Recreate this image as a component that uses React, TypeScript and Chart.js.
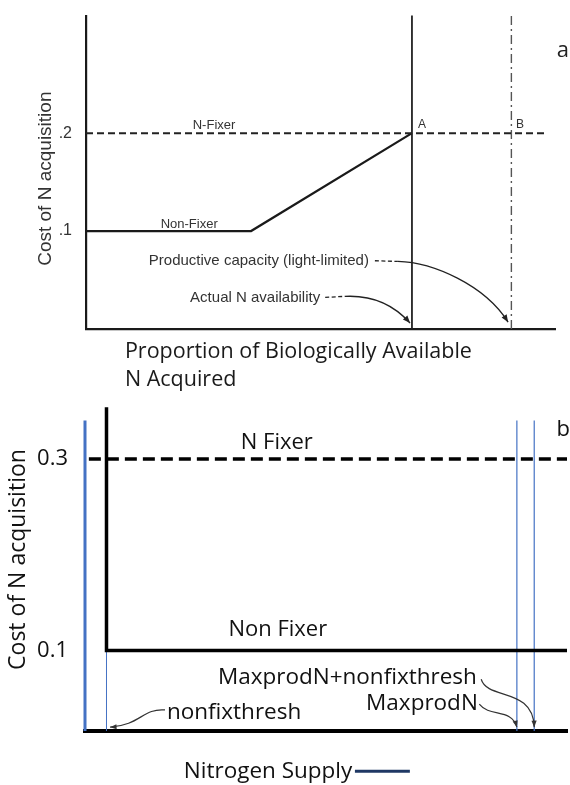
import React, { useEffect, useRef } from "react";
import { Chart, registerables } from "chart.js";

Chart.register(...registerables);

// ---------- Panel a data ----------
const aYTicks = [0.1, 0.2];
const aYTickLabels = [".1", ".2"];
const aNFixerX = [0, 0.985];
const aNFixerY = [0.2, 0.2];
const aNonFixerX = [0, 0.352, 0.695];
const aNonFixerY = [0.1, 0.1, 0.2];
const aLineAX = [0.695, 0.695];
const aLineAY = [0, 0.32];
const aLineBX = [0.907, 0.907];
const aLineBY = [0, 0.32];

// ---------- Panel b data ----------
const bYTicks = [0.1, 0.3];
const bYTickLabels = ["0.1", "0.3"];
const bNFixerX = [0.008, 1];
const bNFixerY = [0.3, 0.3];
const bNonFixerX = [0.0446, 0.0446, 1];
const bNonFixerY = [0.354, 0.1, 0.1];
const bAxisBlueX = [0, 0];
const bAxisBlueY = [0.016, 0.34];
const bThreshX = [0.0446, 0.0446];
const bThreshY = [0.016, 0.1];
const bMaxprodX = [0.896, 0.896];
const bMaxprodY = [0.016, 0.34];
const bMaxprodThreshX = [0.932, 0.932];
const bMaxprodThreshY = [0.016, 0.34];

const pts = (xs: number[], ys: number[]) => xs.map((x, i) => ({ x, y: ys[i] }));

type Txt = {
  t: string;
  x: number;
  y: number;
  font: string;
  color?: string;
  align?: CanvasTextAlign;
  rot?: boolean;
};
type Arrow = {
  lead?: [number, number][];
  curve: [number, number][]; // p0, c1, c2, p1
  color: string;
  width: number;
  head: number;
};

const ARIAL = "'Liberation Sans', Arial, sans-serif";
const CAL = "'Open Sans', 'Noto Sans', sans-serif";

const aTexts: Txt[] = [
  { t: "N-Fixer", x: 0.273, y: 0.208, font: `13px ${ARIAL}`, color: "#333", align: "center" },
  { t: "Non-Fixer", x: 0.22, y: 0.107, font: `13px ${ARIAL}`, color: "#333", align: "center" },
  { t: "A", x: 0.708, y: 0.209, font: `12px ${ARIAL}`, color: "#333", align: "left" },
  { t: "B", x: 0.917, y: 0.209, font: `12px ${ARIAL}`, color: "#333", align: "left" },
  { t: "a", x: 1.017, y: 0.284, font: `22px ${CAL}`, color: "#222", align: "center" },
  { t: "Productive capacity (light-limited)", x: 0.134, y: 0.0697, font: `15px ${ARIAL}`, color: "#333", align: "left" },
  { t: "Actual N availability", x: 0.222, y: 0.0323, font: `15px ${ARIAL}`, color: "#333", align: "left" },
  { t: "Cost of N acquisition", x: -0.085, y: 0.1535, font: `19px ${ARIAL}`, color: "#333", align: "center", rot: true },
  { t: "Proportion of Biologically Available", x: 0.083, y: -0.0232, font: `21.5px ${CAL}`, color: "#1a1a1a", align: "left" },
  { t: "N Acquired", x: 0.083, y: -0.0515, font: `21.5px ${CAL}`, color: "#1a1a1a", align: "left" },
];

const aArrows: Arrow[] = [
  {
    lead: [[0.616, 0.0697], [0.665, 0.069]],
    curve: [[0.665, 0.069], [0.74, 0.068], [0.85, 0.045], [0.9, 0.007]],
    color: "#222",
    width: 1.3,
    head: 8,
  },
  {
    lead: [[0.51, 0.0323], [0.552, 0.0333]],
    curve: [[0.552, 0.0333], [0.62, 0.035], [0.665, 0.02], [0.691, 0.006]],
    color: "#222",
    width: 1.3,
    head: 8,
  },
];

const bTexts: Txt[] = [
  { t: "N Fixer", x: 0.398, y: 0.317, font: `22px ${CAL}`, color: "#111", align: "center" },
  { t: "Non Fixer", x: 0.4, y: 0.122, font: `22px ${CAL}`, color: "#111", align: "center" },
  { t: "MaxprodN+nonfixthresh", x: 0.813, y: 0.072, font: `22.5px ${CAL}`, color: "#111", align: "right" },
  { t: "MaxprodN", x: 0.815, y: 0.045, font: `22.5px ${CAL}`, color: "#111", align: "right" },
  { t: "nonfixthresh", x: 0.17, y: 0.035, font: `22.5px ${CAL}`, color: "#111", align: "left" },
  { t: "b", x: 0.992, y: 0.33, font: `22px ${CAL}`, color: "#111", align: "center" },
  { t: "Cost of N acquisition", x: -0.139, y: 0.195, font: `23px ${CAL}`, color: "#111", align: "center", rot: true },
  { t: "Nitrogen Supply", x: 0.205, y: -0.026, font: `22.5px ${CAL}`, color: "#111", align: "left" },
];

const bArrows: Arrow[] = [
  {
    curve: [[0.166, 0.038], [0.12, 0.04], [0.115, 0.022], [0.052, 0.02]],
    color: "#333",
    width: 1.2,
    head: 7,
  },
  {
    curve: [[0.822, 0.07], [0.835, 0.048], [0.93, 0.062], [0.932, 0.02]],
    color: "#333",
    width: 1.2,
    head: 7,
  },
  {
    curve: [[0.818, 0.044], [0.84, 0.03], [0.885, 0.04], [0.896, 0.02]],
    color: "#333",
    width: 1.2,
    head: 7,
  },
  {
    lead: [[0.56, -0.026], [0.674, -0.026]],
    curve: [],
    color: "#1f3864",
    width: 3,
    head: 0,
  },
];

function notesPlugin(texts: Txt[], arrows: Arrow[]) {
  return {
    id: "notes",
    afterDatasetsDraw(chart: any) {
      const { ctx } = chart;
      const xs = chart.scales.x;
      const ys = chart.scales.y;
      const px = (v: number) => xs.getPixelForValue(v);
      const py = (v: number) => ys.getPixelForValue(v);
      ctx.save();
      for (const a of arrows) {
        ctx.strokeStyle = a.color;
        ctx.fillStyle = a.color;
        ctx.lineWidth = a.width;
        if (a.lead) {
          ctx.setLineDash(a.curve.length ? [4, 2.5] : []);
          ctx.beginPath();
          ctx.moveTo(px(a.lead[0][0]), py(a.lead[0][1]));
          ctx.lineTo(px(a.lead[1][0]), py(a.lead[1][1]));
          ctx.stroke();
          ctx.setLineDash([]);
        }
        if (a.curve.length === 4) {
          const [p0, c1, c2, p1] = a.curve;
          ctx.beginPath();
          ctx.moveTo(px(p0[0]), py(p0[1]));
          ctx.bezierCurveTo(px(c1[0]), py(c1[1]), px(c2[0]), py(c2[1]), px(p1[0]), py(p1[1]));
          ctx.stroke();
          if (a.head > 0) {
            const tx = px(p1[0]);
            const ty = py(p1[1]);
            const ang = Math.atan2(ty - py(c2[1]), tx - px(c2[0]));
            const h = a.head;
            ctx.beginPath();
            ctx.moveTo(tx, ty);
            ctx.lineTo(tx - h * Math.cos(ang - 0.38), ty - h * Math.sin(ang - 0.38));
            ctx.lineTo(tx - h * Math.cos(ang + 0.38), ty - h * Math.sin(ang + 0.38));
            ctx.closePath();
            ctx.fill();
          }
        }
      }
      for (const t of texts) {
        ctx.font = t.font;
        ctx.fillStyle = t.color || "#000";
        ctx.textAlign = t.align || "left";
        ctx.textBaseline = "middle";
        const x = px(t.x);
        const y = py(t.y);
        if (t.rot) {
          ctx.save();
          ctx.translate(x, y);
          ctx.rotate(-Math.PI / 2);
          ctx.fillText(t.t, 0, 0);
          ctx.restore();
        } else {
          ctx.fillText(t.t, x, y);
        }
      }
      ctx.restore();
    },
  };
}

const line = (data: any[], color: string, width: number, dash: number[] = [], order = 0) => ({
  data,
  showLine: true,
  borderColor: color,
  backgroundColor: color,
  borderWidth: width,
  borderDash: dash,
  pointRadius: 0,
  fill: false,
  tension: 0,
  order,
  clip: false,
  borderCapStyle: "butt",
});

function configA(): any {
  return {
    type: "scatter",
    data: {
      datasets: [
        line(pts(aNFixerX, aNFixerY), "#222", 2, [7, 4]),
        line(pts(aNonFixerX, aNonFixerY), "#1a1a1a", 2.2),
        line(pts(aLineAX, aLineAY), "#222", 1.8),
        line(pts(aLineBX, aLineBY), "#555", 1.4, [9, 4, 2, 4]),
      ],
    },
    options: {
      animation: false,
      responsive: false,
      events: [],
      layout: { padding: { left: 0, right: 15, top: 12, bottom: 0 } },
      plugins: { legend: { display: false }, tooltip: { enabled: false } },
      scales: {
        x: {
          type: "linear",
          min: 0,
          max: 1,
          grid: { display: false },
          border: { display: true, color: "#1a1a1a", width: 2.2 },
          ticks: { display: false },
          afterFit: (s: any) => {
            s.height = 66;
          },
        },
        y: {
          type: "linear",
          min: 0,
          max: 0.32,
          grid: { display: false },
          border: { display: true, color: "#1a1a1a", width: 2.2 },
          afterBuildTicks: (s: any) => {
            s.ticks = aYTicks.map((v) => ({ value: v }));
          },
          ticks: {
            padding: 6,
            color: "#333",
            font: { family: ARIAL, size: 16 },
            callback: (v: number) => {
              const i = aYTicks.findIndex((t) => Math.abs(t - v) < 1e-9);
              return i >= 0 ? aYTickLabels[i] : "";
            },
          },
          afterFit: (s: any) => {
            s.width = 86;
          },
        },
      },
    },
    plugins: [notesPlugin(aTexts, aArrows)],
  };
}

function configB(): any {
  const blue = "#4472c4";
  return {
    type: "scatter",
    data: {
      datasets: [
        line(pts(bNFixerX, bNFixerY), "#000", 3.5, [12, 6], 0),
        line(pts(bNonFixerX, bNonFixerY), "#000", 3.5, [], 0),
        line(pts(bAxisBlueX, bAxisBlueY), blue, 3, [], 1),
        line(pts(bThreshX, bThreshY), blue, 1, [], 1),
        line(pts(bMaxprodX, bMaxprodY), blue, 1.2, [], 1),
        line(pts(bMaxprodThreshX, bMaxprodThreshY), blue, 1.2, [], 1),
      ],
    },
    options: {
      animation: false,
      responsive: false,
      events: [],
      layout: { padding: { left: 0, right: 3, top: 8, bottom: 0 } },
      plugins: { legend: { display: false }, tooltip: { enabled: false } },
      scales: {
        x: {
          type: "linear",
          min: 0,
          max: 1,
          grid: { display: false },
          border: { display: true, color: "#000", width: 4 },
          ticks: { display: false },
          afterFit: (s: any) => {
            s.height = 54;
          },
        },
        y: {
          type: "linear",
          min: 0.016,
          max: 0.354,
          grid: { display: false },
          border: { display: false },
          afterBuildTicks: (s: any) => {
            s.ticks = bYTicks.map((v) => ({ value: v }));
          },
          ticks: {
            padding: 9,
            color: "#111",
            font: { family: CAL, size: 22 },
            callback: (v: number) => {
              const i = bYTicks.findIndex((t) => Math.abs(t - v) < 1e-9);
              return i >= 0 ? bYTickLabels[i] : "";
            },
          },
          afterFit: (s: any) => {
            s.width = 85;
          },
        },
      },
    },
    plugins: [notesPlugin(bTexts, bArrows)],
  };
}

export default function App() {
  const refA = useRef<HTMLCanvasElement>(null);
  const refB = useRef<HTMLCanvasElement>(null);
  useEffect(() => {
    const a = new Chart(refA.current as HTMLCanvasElement, configA());
    const b = new Chart(refB.current as HTMLCanvasElement, configB());
    return () => {
      a.destroy();
      b.destroy();
    };
  }, []);
  return (
    <div style={{ position: "absolute", left: 0, top: 0, width: 570, height: 785, background: "#fff" }}>
      <canvas
        ref={refA}
        width={570}
        height={395}
        style={{ position: "absolute", left: 0, top: 0, width: 570, height: 395, display: "block" }}
      />
      <canvas
        ref={refB}
        width={570}
        height={400}
        style={{ position: "absolute", left: 0, top: 385, width: 570, height: 400, display: "block" }}
      />
    </div>
  );
}
